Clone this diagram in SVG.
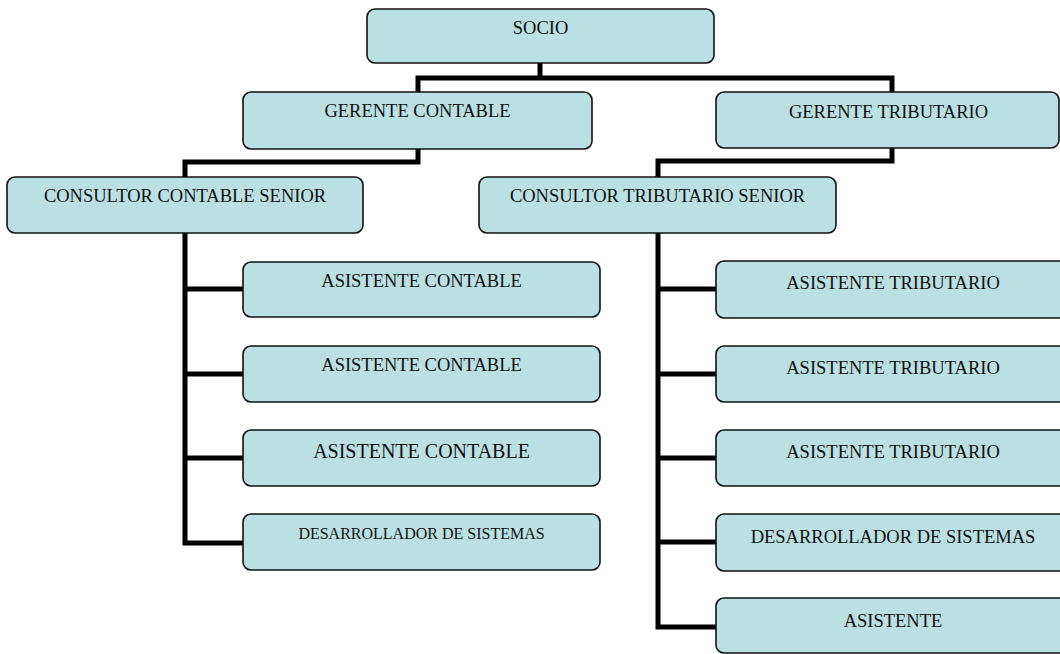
<svg xmlns="http://www.w3.org/2000/svg" width="1060" height="654" viewBox="0 0 1060 654">
<style>
.box{fill:#BAE0E3;stroke:#111;stroke-width:1.6}
.t{font-family:"Liberation Serif","Times New Roman",serif;font-size:18.5px;fill:#111;text-anchor:middle}
.c{fill:none;stroke:#000;stroke-width:5;stroke-linejoin:miter;stroke-linecap:square}
</style>
<rect width="1060" height="654" fill="#fff"/>
<g id="connectors">
<path class="c" d="M540 63 V78 M418 92 V78 H892 V92"/>
<path class="c" d="M418 149 V162 H185 V177"/>
<path class="c" d="M892 148 V161 H658 V177"/>
<path class="c" d="M185 233 V543 H243 M185 289 H243 M185 374 H243 M185 458 H243"/>
<path class="c" d="M658 233 V627 H716 M658 289 H716 M658 374 H716 M658 458 H716 M658 542 H716"/>
</g>
<g id="socio"><rect class="box" x="367" y="9" width="347" height="54" rx="8"/><text class="t" x="540.5" y="34">SOCIO</text></g>
<g id="gerente-contable"><rect class="box" x="243" y="92" width="349" height="57" rx="8"/><text class="t" x="417.5" y="117">GERENTE CONTABLE</text></g>
<g id="gerente-tributario"><rect class="box" x="716" y="92" width="343" height="56" rx="8"/><text class="t" x="888.5" y="118">GERENTE TRIBUTARIO</text></g>
<g id="consultor-contable"><rect class="box" x="7" y="177" width="356" height="56" rx="8"/><text class="t" x="185" y="202">CONSULTOR CONTABLE SENIOR</text></g>
<g id="consultor-tributario"><rect class="box" x="479" y="177" width="357" height="56" rx="8"/><text class="t" x="657.5" y="202">CONSULTOR TRIBUTARIO SENIOR</text></g>
<g id="asistente-contable-1"><rect class="box" x="243" y="262" width="357" height="55" rx="8"/><text class="t" x="421.5" y="287">ASISTENTE CONTABLE</text></g>
<g id="asistente-contable-2"><rect class="box" x="243" y="346" width="357" height="56" rx="8"/><text class="t" x="421.5" y="371">ASISTENTE CONTABLE</text></g>
<g id="asistente-contable-3"><rect class="box" x="243" y="430" width="357" height="56" rx="8"/><text class="t" x="421.5" y="458" style="font-size:20px">ASISTENTE CONTABLE</text></g>
<g id="desarrollador-contable"><rect class="box" x="243" y="514" width="357" height="56" rx="8"/><text class="t" x="421.5" y="539" style="font-size:16px">DESARROLLADOR DE SISTEMAS</text></g>
<g id="asistente-tributario-1"><rect class="box" x="716" y="261" width="356" height="57" rx="8"/><text class="t" x="893" y="289">ASISTENTE TRIBUTARIO</text></g>
<g id="asistente-tributario-2"><rect class="box" x="716" y="346" width="356" height="56" rx="8"/><text class="t" x="893" y="374">ASISTENTE TRIBUTARIO</text></g>
<g id="asistente-tributario-3"><rect class="box" x="716" y="430" width="356" height="56" rx="8"/><text class="t" x="893" y="458">ASISTENTE TRIBUTARIO</text></g>
<g id="desarrollador-tributario"><rect class="box" x="716" y="514" width="356" height="57" rx="8"/><text class="t" x="893" y="543">DESARROLLADOR DE SISTEMAS</text></g>
<g id="asistente"><rect class="box" x="716" y="598" width="356" height="55" rx="8"/><text class="t" x="893" y="627">ASISTENTE</text></g>
</svg>
